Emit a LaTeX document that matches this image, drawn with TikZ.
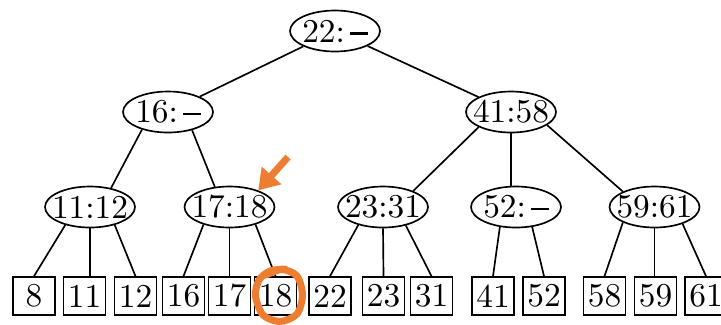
\documentclass[tikz,border=0pt]{standalone}
\usepackage{tikz}
\usepackage{xcolor}
\usetikzlibrary{arrows.meta, shapes.geometric}
\definecolor{markorange}{RGB}{237,125,49}
\newcommand{\nokey}{\rule[2.2pt]{5.2pt}{0.8pt}}

\begin{document}
\begin{tikzpicture}[
  x=0.3pt, y=-0.3pt,
  font=\normalsize,
  inode/.style={
    draw=black, line width=0.5pt, ellipse, inner xsep=-2.5pt, inner ysep=0pt,
    minimum width=27pt, minimum height=12.3pt
  },
  leaf/.style ={draw=black, line width=0.5pt, inner sep=0.5pt, minimum width=12.6pt, minimum height=11.4pt},
  link/.style ={draw=black, line width=0.5pt},
  pointer/.style={draw=markorange, line width=2.1pt, -{Triangle[length=6pt,width=7.5pt]}},
  hilite/.style ={draw=markorange, line width=2.1pt, line cap=round},
]
\useasboundingbox (0,0) rectangle (721,324);

% inner nodes
\node[inode] (root) at (335,31) {22:\,\nokey};
\node[inode] (n16)  at (168,112) {16:\,\nokey};
\node[inode] (n4158) at (511,112) {41:58};
\node[inode] (n1112) at (90,207) {11:12};
\node[inode] (n1718) at (229.5,207) {17:18};
\node[inode] (n2331) at (383,207) {23:31};
\node[inode] (n52)   at (516,207) {52:\,\nokey};
\node[inode] (n5961) at (654.5,207) {59:61};

% leaves
\node[leaf] (b8)  at (34,296) {8};
\node[leaf] (b11) at (84.5,296) {11};
\node[leaf] (b12) at (135.5,296) {12};
\node[leaf] (b16) at (183.5,296) {16};
\node[leaf] (b17) at (229.5,296) {17};
\node[leaf] (b18) at (275.5,296) {18};
\node[leaf] (b22) at (330,296) {22};
\node[leaf] (b23) at (383.5,296) {23};
\node[leaf] (b31) at (431.5,296) {31};
\node[leaf] (b41) at (493,296) {41};
\node[leaf] (b52) at (544,296) {52};
\node[leaf] (b58) at (604.5,296) {58};
\node[leaf] (b59) at (655.5,296) {59};
\node[leaf] (b61) at (706,296) {61};

% upper edges
\draw[link] (root) -- (n16);
\draw[link] (root) -- (n4158);
\draw[link] (n16.214) -- (n1112.42);
\draw[link] (n16.323) -- (n1718.126);
\draw[link] (n4158.205) -- (n2331.28);
\draw[link] (n4158.south) -- (n4158.south |- n52.north);
\draw[link] (n4158.340) -- (n5961.154);

% leaf edges
\draw[link] (n1112.216) -- (b8.north);
\draw[link] (n1112.south) -- (n1112.south |- b11.north);
\draw[link] (n1112.324) -- (b12.north);
\draw[link] (n1718.214) -- (b16.north);
\draw[link] (n1718.south) -- (b17.north);
\draw[link] (n1718.326) -- (b18.north);
\draw[link] (n2331.216) -- (b22.north);
\draw[link] (n2331.south) -- (b23.north);
\draw[link] (n2331.321) -- (b31.north);
\draw[link] (n52.231) -- (b41.north);
\draw[link] (n52.309) -- (b52.north);
\draw[link] (n5961.206) -- (b58.north);
\draw[link] (n5961.south) -- (n5961.south |- b59.north);
\draw[link] (n5961.329) -- (b61.north);

% orange marks
\coordinate (arrtail) at (288,157);
\draw[pointer] (arrtail) -- (n1718.30);
\draw[hilite] plot[smooth] coordinates {
  (266,275) (282,269.5) (297,276) (302.5,295) (297,314) (280,321.5)
  (263,315) (255.5,296) (259,280) (270,271) (285,269)
};

\end{tikzpicture}
\end{document}
